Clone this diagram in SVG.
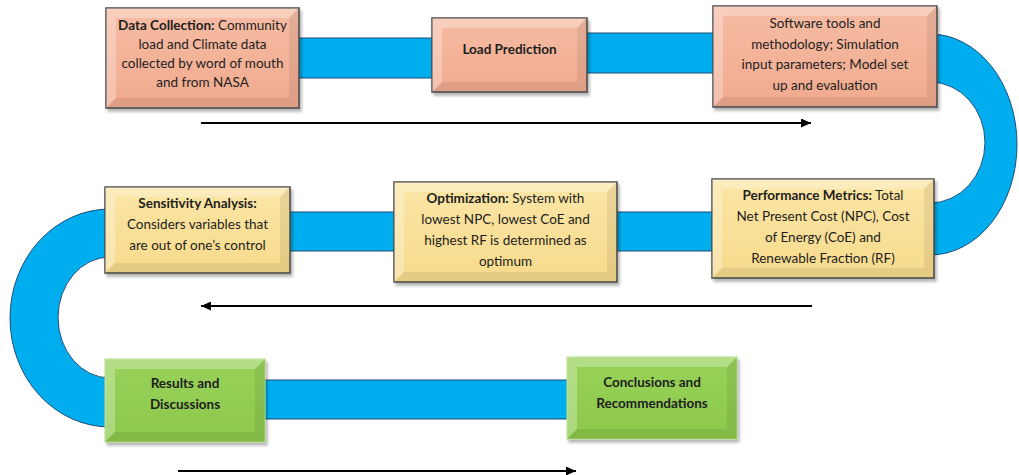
<svg xmlns="http://www.w3.org/2000/svg" width="1019" height="475" viewBox="0 0 1019 475">
<style>
.band{fill:#00AEEF;stroke:#1F4E79;stroke-width:1}
.box{stroke:#4a4a4a;stroke-width:1.5}
.salmon{fill:url(#gS)}
.yellow{fill:url(#gY)}
.green{fill:url(#gG);stroke:#b5dc8a;stroke-width:1}
.hl{fill:#ffffff;fill-opacity:0.28}
.sh{fill:#000000;fill-opacity:0.07}
.t{font-family:Lato,"Liberation Sans",sans-serif;font-size:13.5px;fill:#1e1e1e;text-anchor:middle}
.b{font-weight:bold}
.arr{stroke:#000;stroke-width:2;fill:none;marker-end:url(#ah)}
</style>
<defs>
<linearGradient id="gS" x1="0" y1="0" x2="0" y2="1"><stop offset="0" stop-color="#F6BCA4"/><stop offset="1" stop-color="#F0AA8E"/></linearGradient>
<linearGradient id="gY" x1="0" y1="0" x2="0" y2="1"><stop offset="0" stop-color="#FBE6A6"/><stop offset="1" stop-color="#F7DA8C"/></linearGradient>
<linearGradient id="gG" x1="0" y1="0" x2="0" y2="1"><stop offset="0" stop-color="#98D25A"/><stop offset="1" stop-color="#8CC84B"/></linearGradient>
<filter id="ds" x="-10%" y="-10%" width="125%" height="130%"><feDropShadow dx="2" dy="3" stdDeviation="1.5" flood-color="#000" flood-opacity="0.3"/></filter>
<marker id="ah" markerUnits="userSpaceOnUse" markerWidth="10" markerHeight="9" refX="10" refY="4.5" orient="auto"><path d="M0,0 L10,4.5 L0,9 z" fill="#000"/></marker>
</defs>
<g id="connectors">
<rect class="band" x="290" y="38" width="150" height="40"/>
<rect class="band" x="580" y="33" width="140" height="40"/>
<path class="band" d="M930,34 A87,110.5 0 0 1 930,255 L930,203 A55,60.5 0 0 0 930,82 Z"/>
<rect class="band" x="280" y="212" width="440" height="39"/>
<path class="band" d="M110,209 A100,109 0 0 0 110,427 L110,378 A52,60.5 0 0 1 110,257 Z"/>
<rect class="band" x="255" y="380" width="320" height="39"/>
<line class="arr" x1="201" y1="123" x2="811" y2="123"/>
<line class="arr" x1="812" y1="306" x2="201" y2="306"/>
<line class="arr" x1="178" y1="471" x2="576" y2="471"/>
</g>
<g id="data-collection">
<rect class="box salmon" x="106" y="8" width="193" height="100" filter="url(#ds)"/>
<polygon class="hl" points="106,8 299,8 289,18 116,18"/><polygon class="hl" points="106,8 116,18 116,98 106,108"/><polygon class="sh" points="299,8 299,108 289,98 289,18"/><polygon class="sh" points="106,108 116,98 289,98 299,108"/>
<text class="t" x="202.5" y="29.5"><tspan class="b">Data Collection:</tspan> Community</text>
<text class="t" x="202.5" y="48.5">load and Climate data</text>
<text class="t" x="202.5" y="67.5">collected by word of mouth</text>
<text class="t" x="202.5" y="86.5">and from NASA</text>
</g>
<g id="load-prediction">
<rect class="box salmon" x="432" y="18" width="155" height="74" filter="url(#ds)"/>
<polygon class="hl" points="432,18 587,18 577,28 442,28"/><polygon class="hl" points="432,18 442,28 442,82 432,92"/><polygon class="sh" points="587,18 587,92 577,82 577,28"/><polygon class="sh" points="432,92 442,82 577,82 587,92"/>
<text class="t b" x="509.5" y="53.5">Load Prediction</text>
</g>
<g id="software-tools">
<rect class="box salmon" x="713" y="6" width="224" height="101" filter="url(#ds)"/>
<polygon class="hl" points="713,6 937,6 927,16 723,16"/><polygon class="hl" points="713,6 723,16 723,97 713,107"/><polygon class="sh" points="937,6 937,107 927,97 927,16"/><polygon class="sh" points="713,107 723,97 927,97 937,107"/>
<text class="t" x="825" y="27.5">Software tools and</text>
<text class="t" x="825" y="48.5">methodology; Simulation</text>
<text class="t" x="825" y="68.5">input parameters; Model set</text>
<text class="t" x="825" y="89.5">up and evaluation</text>
</g>
<g id="performance-metrics">
<rect class="box yellow" x="712" y="179" width="222" height="99" filter="url(#ds)"/>
<polygon class="hl" points="712,179 934,179 924,189 722,189"/><polygon class="hl" points="712,179 722,189 722,268 712,278"/><polygon class="sh" points="934,179 934,278 924,268 924,189"/><polygon class="sh" points="712,278 722,268 924,268 934,278"/>
<text class="t" x="823" y="199.5"><tspan class="b">Performance Metrics:</tspan> Total</text>
<text class="t" x="823" y="220.5">Net Present Cost (NPC), Cost</text>
<text class="t" x="823" y="241.5">of Energy (CoE) and</text>
<text class="t" x="823" y="262.5">Renewable Fraction (RF)</text>
</g>
<g id="optimization">
<rect class="box yellow" x="394" y="182" width="223" height="100" filter="url(#ds)"/>
<polygon class="hl" points="394,182 617,182 607,192 404,192"/><polygon class="hl" points="394,182 404,192 404,272 394,282"/><polygon class="sh" points="617,182 617,282 607,272 607,192"/><polygon class="sh" points="394,282 404,272 607,272 617,282"/>
<text class="t" x="505.5" y="202.5"><tspan class="b">Optimization:</tspan> System with</text>
<text class="t" x="505.5" y="224">lowest NPC, lowest CoE and</text>
<text class="t" x="505.5" y="244.5">highest RF is determined as</text>
<text class="t" x="505.5" y="265.5">optimum</text>
</g>
<g id="sensitivity-analysis">
<rect class="box yellow" x="105" y="187" width="185" height="86" filter="url(#ds)"/>
<polygon class="hl" points="105,187 290,187 280,197 115,197"/><polygon class="hl" points="105,187 115,197 115,263 105,273"/><polygon class="sh" points="290,187 290,273 280,263 280,197"/><polygon class="sh" points="105,273 115,263 280,263 290,273"/>
<text class="t b" x="197.5" y="207.5">Sensitivity Analysis:</text>
<text class="t" x="197.5" y="228.5">Considers variables that</text>
<text class="t" x="197.5" y="249.5">are out of one’s control</text>
</g>
<g id="results-discussions">
<rect class="green" x="105" y="359" width="160" height="83" filter="url(#ds)"/>
<polygon class="hl" points="105,359 265,359 255,369 115,369"/><polygon class="hl" points="105,359 115,369 115,432 105,442"/><polygon class="sh" points="265,359 265,442 255,432 255,369"/><polygon class="sh" points="105,442 115,432 255,432 265,442"/>
<text class="t b" x="185" y="387.5">Results and</text>
<text class="t b" x="185" y="408.5">Discussions</text>
</g>
<g id="conclusions-recommendations">
<rect class="green" x="567" y="357" width="170" height="82" filter="url(#ds)"/>
<polygon class="hl" points="567,357 737,357 727,367 577,367"/><polygon class="hl" points="567,357 577,367 577,429 567,439"/><polygon class="sh" points="737,357 737,439 727,429 727,367"/><polygon class="sh" points="567,439 577,429 727,429 737,439"/>
<text class="t b" x="652" y="386.5">Conclusions and</text>
<text class="t b" x="652" y="407.5">Recommendations</text>
</g>
</svg>
